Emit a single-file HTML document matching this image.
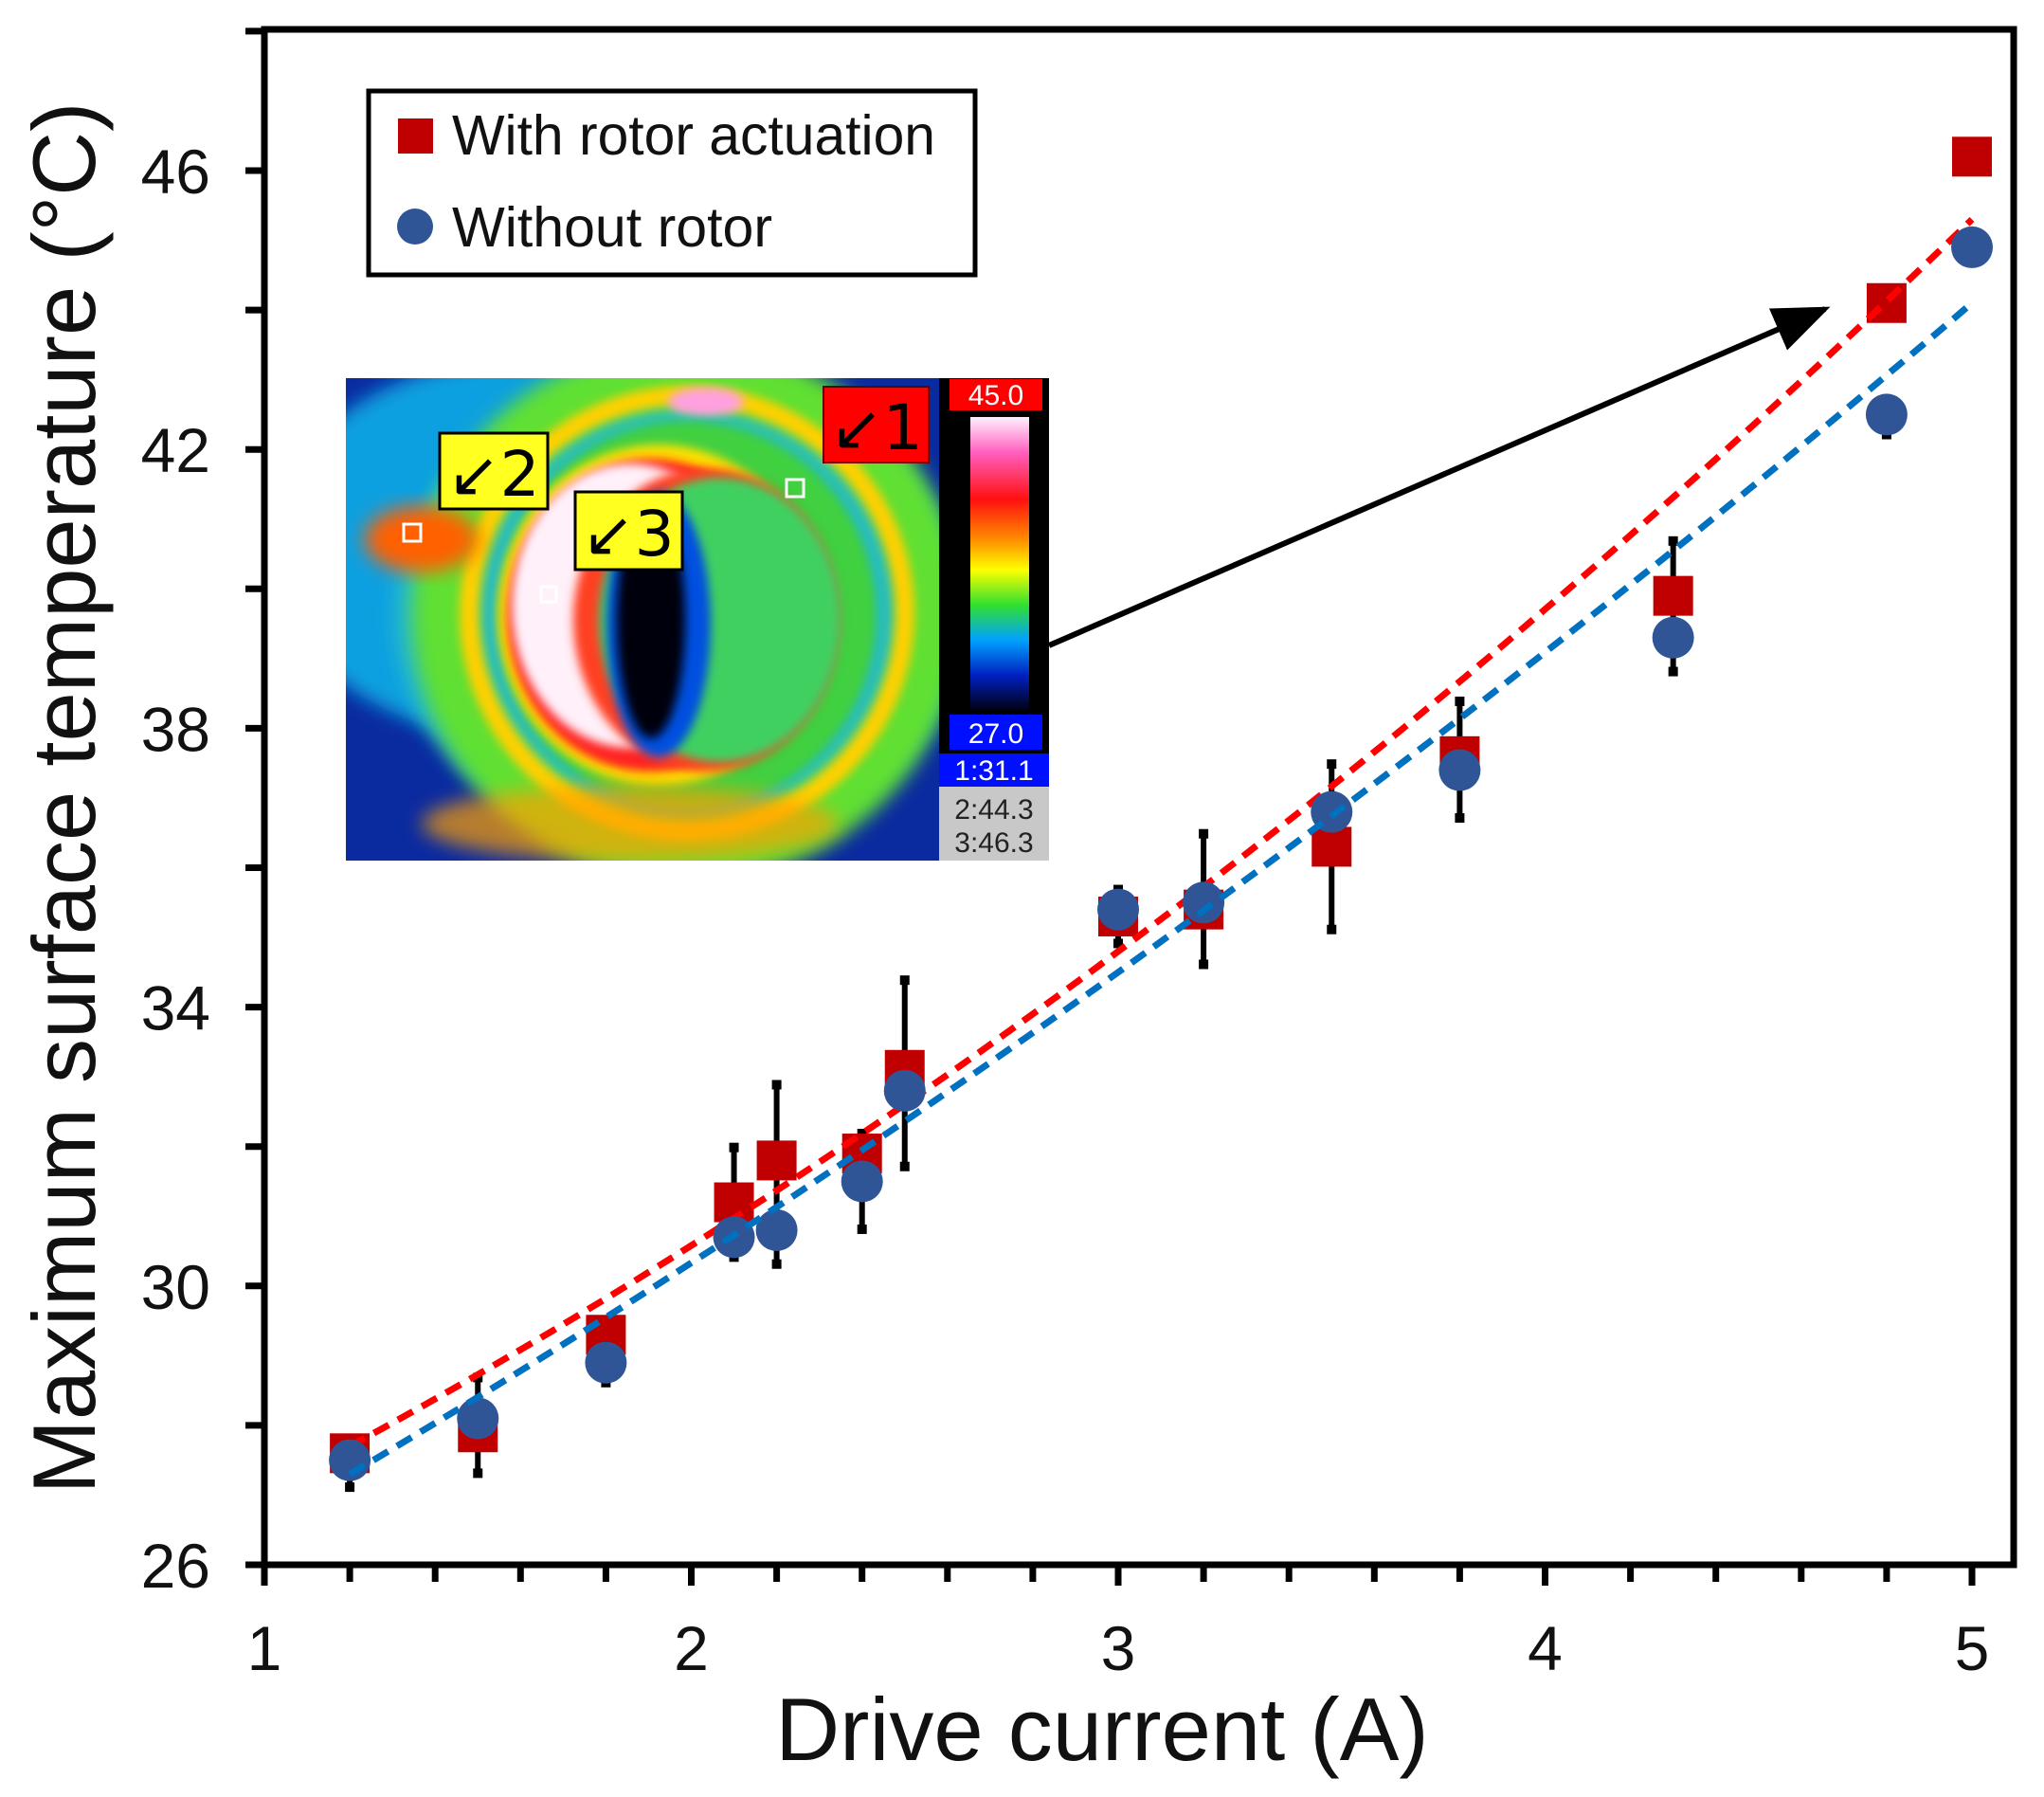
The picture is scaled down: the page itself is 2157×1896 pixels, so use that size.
<!DOCTYPE html>
<html><head><meta charset="utf-8"><style>
html,body{margin:0;padding:0;background:#fff;}
svg{display:block;font-family:"Liberation Sans",Arial,sans-serif;}
</style></head><body>
<svg id="chart" width="2157" height="1896" viewBox="0 0 2157 1896" xmlns="http://www.w3.org/2000/svg">
<defs>
<filter id="blur" x="-20%" y="-20%" width="140%" height="140%"><feGaussianBlur stdDeviation="10"/></filter>
<filter id="blur2" x="-20%" y="-20%" width="140%" height="140%"><feGaussianBlur stdDeviation="5"/></filter>
<clipPath id="imgclip"><rect x="0" y="0" width="626" height="509"/></clipPath>
<linearGradient id="cbar" x1="0" y1="0" x2="0" y2="1">
<stop offset="0" stop-color="#fff0ff"/><stop offset="0.12" stop-color="#ff60c0"/><stop offset="0.28" stop-color="#ff1010"/>
<stop offset="0.42" stop-color="#ff9000"/><stop offset="0.52" stop-color="#ffff00"/><stop offset="0.64" stop-color="#30e030"/>
<stop offset="0.76" stop-color="#00a0ff"/><stop offset="0.88" stop-color="#0020c0"/><stop offset="1" stop-color="#000010"/>
</linearGradient>
<marker id="arrowhead" markerWidth="10" markerHeight="8" refX="9" refY="4" orient="auto" markerUnits="strokeWidth"><path d="M0,0 L10,4 L0,8 Z" fill="#000"/></marker>
</defs>

<g id="inset" transform="translate(365,399)">
  <g clip-path="url(#imgclip)">
    <rect x="0" y="0" width="626" height="509" fill="#0a2aa0"/>
    <ellipse cx="180" cy="180" rx="260" ry="200" fill="#10a0e0" filter="url(#blur)"/>
    <ellipse cx="350" cy="250" rx="300" ry="250" fill="#20b8d0" filter="url(#blur)"/>
    <ellipse cx="360" cy="248" rx="255" ry="250" fill="none" stroke="#60e030" stroke-width="70" filter="url(#blur)"/>
    <ellipse cx="360" cy="248" rx="230" ry="230" fill="none" stroke="#ffd000" stroke-width="20" filter="url(#blur2)"/>
    <ellipse cx="80" cy="170" rx="60" ry="35" fill="#ff6000" filter="url(#blur)"/>
    <ellipse cx="380" cy="25" rx="40" ry="15" fill="#ffa0e0" filter="url(#blur2)"/>
    <ellipse cx="360" cy="250" rx="200" ry="205" fill="#40d040" filter="url(#blur2)"/>
    <ellipse cx="330" cy="250" rx="170" ry="180" fill="#ffe000" filter="url(#blur2)"/>
    <ellipse cx="320" cy="250" rx="150" ry="165" fill="#ff2020" filter="url(#blur2)"/>
    <ellipse cx="300" cy="240" rx="125" ry="150" fill="#fff0fa" filter="url(#blur2)"/>
    <ellipse cx="380" cy="255" rx="140" ry="160" fill="#ff4020" filter="url(#blur2)"/>
    <ellipse cx="395" cy="255" rx="128" ry="150" fill="#40d060" filter="url(#blur2)"/>
    <ellipse cx="330" cy="260" rx="55" ry="140" fill="#0050e0" filter="url(#blur2)"/>
    <ellipse cx="322" cy="255" rx="36" ry="125" fill="#000010" filter="url(#blur2)"/>
    <ellipse cx="300" cy="470" rx="220" ry="40" fill="#ffa000" opacity="0.7" filter="url(#blur)"/>
  </g>
  <rect x="626" y="0" width="116" height="509" fill="#000"/>
  <rect x="637" y="1" width="98" height="33" fill="#ff0000"/>
  <text x="686" y="28" font-size="30" fill="#fff" text-anchor="middle">45.0</text>
  <rect x="659" y="41" width="62" height="310" fill="url(#cbar)"/>
  <rect x="637" y="355" width="98" height="37" fill="#0010ff"/>
  <text x="686" y="385" font-size="30" fill="#fff" text-anchor="middle">27.0</text>
  <rect x="626" y="396" width="116" height="35" fill="#0010ff"/>
  <text x="684" y="424" font-size="30" fill="#fff" text-anchor="middle">1:31.1</text>
  <rect x="626" y="431" width="116" height="78" fill="#c8c8c8"/>
  <text x="684" y="465" font-size="30" fill="#222" text-anchor="middle">2:44.3</text>
  <text x="684" y="500" font-size="30" fill="#222" text-anchor="middle">3:46.3</text>
  <rect x="504" y="9" width="111" height="80" fill="#ff0000" stroke="#600" stroke-width="2"/>
  <text x="560" y="75" font-size="66" fill="#000" text-anchor="middle" font-family="DejaVu Sans, sans-serif">↙1</text>
  <rect x="99" y="58" width="114" height="80" fill="#ffff20" stroke="#000" stroke-width="3"/>
  <text x="156" y="124" font-size="66" fill="#000" text-anchor="middle" font-family="DejaVu Sans, sans-serif">↙2</text>
  <rect x="242" y="120" width="113" height="82" fill="#ffff20" stroke="#000" stroke-width="3"/>
  <text x="298" y="187" font-size="66" fill="#000" text-anchor="middle" font-family="DejaVu Sans, sans-serif">↙3</text>
  <rect x="465" y="107" width="18" height="18" fill="none" stroke="#fff" stroke-width="3"/>
  <rect x="61" y="154" width="18" height="18" fill="none" stroke="#fff" stroke-width="3"/>
  <rect x="206" y="220" width="16" height="16" fill="none" stroke="#fff" stroke-width="3"/>
</g>
<line x1="1107" y1="681" x2="1926" y2="326" stroke="#000" stroke-width="6" marker-end="url(#arrowhead)"/>

<g id="plot"></g>

<rect x="279" y="31" width="1846" height="1620" fill="none" stroke="#000" stroke-width="7"/>

<g>
  <rect x="389" y="96" width="640" height="194" fill="#fff" stroke="#000" stroke-width="5"/>
  <g>
    <rect x="420" y="125" width="37" height="37" fill="#c00000"/>
    <text x="477" y="163" font-size="59" fill="#111" textLength="510" lengthAdjust="spacingAndGlyphs">With rotor actuation</text>
  </g>
  <g>
    <circle cx="438" cy="239" r="19" fill="#2f5597"/>
    <text x="477" y="260" font-size="59" fill="#111" textLength="338" lengthAdjust="spacingAndGlyphs">Without rotor</text>
  </g>
</g>

<text x="1163" y="1857" font-size="94" text-anchor="middle" fill="#111">Drive current (A)</text>
<text transform="translate(100,842) rotate(-90)" font-size="94" text-anchor="middle" fill="#111">Maximum surface temperature (°C)</text>

<script>
const xCurrent = [1.2, 1.5, 1.8, 2.1, 2.2, 2.4, 2.5, 3.0, 3.2, 3.5, 3.8, 4.3, 4.8, 5.0];
const withRotor = [27.6, 27.9, 29.3, 31.2, 31.8, 31.9, 33.1, 35.3, 35.4, 36.3, 37.6, 39.9, 44.1, 46.2];
const withoutRotor = [27.5, 28.1, 28.9, 30.7, 30.8, 31.5, 32.8, 35.4, 35.5, 36.8, 37.4, 39.3, 42.5, 44.9];
const errLow = [27.1, 27.3, 28.6, 30.4, 30.3, 30.8, 31.7, 34.9, 34.6, 35.1, 36.7, 38.8, 42.2, 44.9];
const errHigh = [27.6, 28.7, 29.3, 32.0, 32.9, 32.2, 34.4, 35.7, 36.5, 37.5, 38.4, 40.7, 42.6, 44.9];
const trendX = [1.2, 3.0, 5.0];
const trendWith = [27.7, 34.8, 45.3];
const trendWithout = [27.3, 34.5, 44.1];
const xTicks = [1, 2, 3, 4, 5];
const yTicks = [26, 30, 34, 38, 42, 46];

const NS = 'http://www.w3.org/2000/svg';
const X0 = 279, X1 = 2081, Y0 = 1651, Y1 = 180;
function sx(v){ return X0 + (v - 1) / 4 * (X1 - X0); }
function sy(v){ return Y0 - (v - 26) / 20 * (Y0 - Y1); }
const plot = document.getElementById('plot');
const svg = document.getElementById('chart');
function mk(tag, attrs, parent){
  const e = document.createElementNS(NS, tag);
  for (const k in attrs) e.setAttribute(k, attrs[k]);
  (parent || plot).appendChild(e);
  return e;
}

const axes = mk('g', {}, svg);


for (let v = 1; v <= 5.0001; v += 0.2) {
  const major = Math.abs(v - Math.round(v)) < 1e-6;
  const t = mk('line', {x1: sx(v), x2: sx(v), y1: Y0, y2: Y0 + (major ? 22 : 18), stroke: '#000', 'stroke-width': 7}, axes);
  
  
}
xTicks.forEach(v => {
  const t = mk('text', {x: sx(v), y: 1762, 'font-size': 66, 'text-anchor': 'middle', fill: '#111'}, axes);
  t.textContent = v;
  
  
});
for (let v = 26; v <= 48; v += 2) {
  const t = mk('line', {x1: X0 - 20, x2: X0, y1: sy(v), y2: sy(v), stroke: '#000', 'stroke-width': 7}, axes);
  
  
}
yTicks.forEach(v => {
  const t = mk('text', {x: 222, y: sy(v) + 24, 'font-size': 66, 'text-anchor': 'end', fill: '#111'}, axes);
  t.textContent = v;
  
  
});

xCurrent.forEach((x, i) => {
  if (errHigh[i] - errLow[i] < 0.05) return;
  const g = mk('g', {});
  
  
  mk('line', {x1: sx(x), x2: sx(x), y1: sy(errLow[i]), y2: sy(errHigh[i]), stroke: '#000', 'stroke-width': 6}, g);
  mk('rect', {x: sx(x) - 5, y: sy(errLow[i]) - 6, width: 10, height: 10, fill: '#000'}, g);
  mk('rect', {x: sx(x) - 5, y: sy(errHigh[i]) - 4, width: 10, height: 10, fill: '#000'}, g);
});

xCurrent.forEach((x, i) => {
  const r = mk('rect', {x: sx(x) - 21, y: sy(withRotor[i]) - 21, width: 42, height: 42, fill: '#c00000'});
  
  
});

function lag(vals, x){
  let s = 0;
  for (let i = 0; i < 3; i++) {
    let p = vals[i];
    for (let j = 0; j < 3; j++) if (j !== i) p *= (x - trendX[j]) / (trendX[i] - trendX[j]);
    s += p;
  }
  return s;
}
function trendPath(vals){
  let d = '';
  for (let k = 0; k <= 80; k++) {
    const x = trendX[0] + (trendX[2] - trendX[0]) * k / 80;
    d += (k ? 'L' : 'M') + sx(x).toFixed(1) + ',' + sy(lag(vals, x)).toFixed(1);
  }
  return d;
}
const tr = mk('path', {d: trendPath(trendWith), fill: 'none', stroke: '#ff0000', 'stroke-width': 7, 'stroke-dasharray': '18 11'});



xCurrent.forEach((x, i) => {
  const c = mk('circle', {cx: sx(x), cy: sy(withoutRotor[i]), r: 22, fill: '#2f5597'});
  
  
});
const tb = mk('path', {d: trendPath(trendWithout), fill: 'none', stroke: '#0070c0', 'stroke-width': 7, 'stroke-dasharray': '18 11'});


</script>
</svg>
</body></html>
